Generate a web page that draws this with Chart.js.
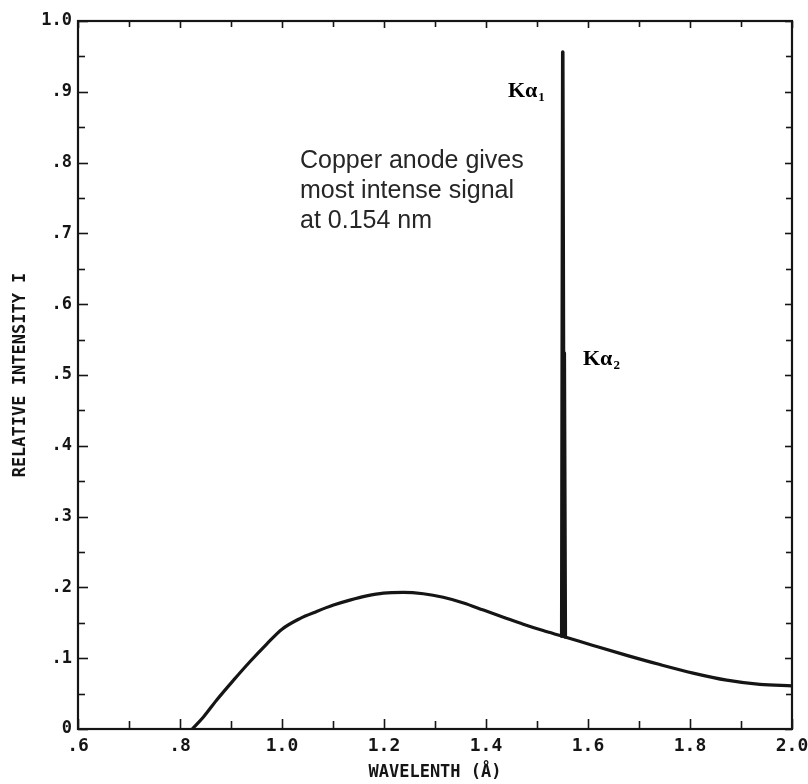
<!DOCTYPE html>
<html>
<head>
<meta charset="utf-8">
<script src="https://cdn.jsdelivr.net/npm/chart.js@4.4.1/dist/chart.umd.min.js"></script>
<style>
  html, body { margin: 0; padding: 0; background: #ffffff; }
  #wrap { width: 808px; height: 784px; }
</style>
</head>
<body>
<div id="wrap"><canvas id="c" width="808" height="784"></canvas></div>
<script>
// ---- data ----
// continuous (bremsstrahlung) spectrum
const contWavelength = [0.824, 0.846, 0.872, 0.905, 0.937, 0.970, 1.000, 1.035, 1.068, 1.101,
  1.133, 1.166, 1.199, 1.238, 1.277, 1.316, 1.356, 1.395, 1.434, 1.473, 1.512, 1.550,
  1.610, 1.676, 1.741, 1.806, 1.872, 1.937, 2.0];
const contIntensity = [0, 0.017, 0.041, 0.069, 0.095, 0.120, 0.141, 0.156, 0.166, 0.175,
  0.182, 0.188, 0.192, 0.193, 0.191, 0.186, 0.178, 0.168, 0.158, 0.148, 0.139, 0.131,
  0.118, 0.104, 0.091, 0.079, 0.069, 0.063, 0.061];
// characteristic Kα1 / Kα2 lines
const lineWavelength = [1.5485, 1.5505, 1.5520, 1.5535, 1.5555];
const lineIntensity  = [0.131, 0.956, 0.500, 0.531, 0.130];

const xTickLabels = ['.6', '.8', '1.0', '1.2', '1.4', '1.6', '1.8', '2.0'];
const yTickLabels = ['0', '.1', '.2', '.3', '.4', '.5', '.6', '.7', '.8', '.9', '1.0'];

const xTitle = 'WAVELENTH (Å)';
const yTitle = 'RELATIVE INTENSITY I';
const noteLines = ['Copper anode gives', 'most intense signal', 'at 0.154 nm'];
const peakLabels = [
  { main: 'Kα', sub: '1', x: 1.4431, y: 0.893 },
  { main: 'Kα', sub: '2', x: 1.5902, y: 0.514 }
];
const noteAnchor = { x: 1.0353, y: 0.7924 };

const toPts = (xs, ys) => xs.map((w, i) => ({ x: w, y: ys[i] }));

const INK = '#151515';

const framePlugin = {
  id: 'frameTicks',
  afterDraw(chart) {
    const { ctx, chartArea: a, scales: { x, y } } = chart;
    ctx.save();
    ctx.strokeStyle = INK;
    ctx.lineCap = 'butt';
    const seg = (x1, y1, x2, y2) => { ctx.beginPath(); ctx.moveTo(x1, y1); ctx.lineTo(x2, y2); ctx.stroke(); };
    ctx.lineWidth = 1.6;
    for (let k = 0; k <= 14; k++) {
      const v = 0.6 + k * 0.1;
      const px = Math.round(x.getPixelForValue(v)) + 0.5;
      const major = k % 2 === 0;
      seg(px, a.bottom, px, a.bottom - (major ? 10 : 8));
      seg(px, a.top, px, a.top + (major ? 7 : 6));
    }
    for (let k = 0; k <= 20; k++) {
      const v = k * 0.05;
      const py = Math.round(y.getPixelForValue(v)) + 0.5;
      const major = k % 2 === 0;
      seg(a.left, py, a.left + (major ? 10 : 7), py);
      seg(a.right, py, a.right - (major ? 7 : 6), py);
    }
    ctx.lineWidth = 2.2;
    ctx.strokeRect(a.left, a.top, a.right - a.left, a.bottom - a.top);

    ctx.fillStyle = '#000';
    ctx.textBaseline = 'alphabetic';
    ctx.textAlign = 'left';
    peakLabels.forEach(p => {
      const px = x.getPixelForValue(p.x);
      const py = y.getPixelForValue(p.y);
      ctx.font = 'bold 22px "Liberation Serif", "DejaVu Serif", serif';
      ctx.fillText(p.main, px, py);
      const w = ctx.measureText(p.main).width;
      ctx.font = 'bold 13px "Liberation Serif", "DejaVu Serif", serif';
      ctx.fillText(p.sub, px + w + 1, py + 4);
    });

    ctx.fillStyle = '#262626';
    ctx.font = '25px "Liberation Sans", Arial, sans-serif';
    const nx = x.getPixelForValue(noteAnchor.x);
    const ny = y.getPixelForValue(noteAnchor.y);
    noteLines.forEach((t, i) => ctx.fillText(t, nx, ny + i * 30));
    ctx.restore();
  }
};

new Chart(document.getElementById('c'), {
  type: 'line',
  data: {
    datasets: [{
      data: toPts(contWavelength, contIntensity),
      borderColor: INK,
      borderWidth: 3.2,
      pointRadius: 0,
      fill: false,
      cubicInterpolationMode: 'monotone',
      borderJoinStyle: 'round',
      borderCapStyle: 'round'
    }, {
      data: toPts(lineWavelength, lineIntensity),
      borderColor: INK,
      borderWidth: 3.6,
      pointRadius: 0,
      fill: false,
      tension: 0,
      borderJoinStyle: 'round',
      borderCapStyle: 'round'
    }]
  },
  options: {
    responsive: false,
    animation: false,
    devicePixelRatio: 1,
    layout: { padding: { left: 0, right: 16, top: 21, bottom: 0 } },
    plugins: { legend: { display: false }, tooltip: { enabled: false } },
    scales: {
      x: {
        type: 'linear',
        min: 0.6, max: 2.0,
        afterFit(s) { s.height = 55; s.paddingLeft = 0; s.paddingRight = 0; },
        grid: { display: false, drawTicks: false },
        border: { display: false },
        ticks: {
          stepSize: 0.2,
          autoSkip: false,
          maxRotation: 0,
          padding: 7,
          color: INK,
          font: { family: '"DejaVu Sans Mono", monospace', size: 18, weight: 'bold' },
          callback: (v, i) => xTickLabels[i]
        },
        title: {
          display: true,
          text: xTitle,
          color: INK,
          padding: { top: 0, bottom: 1 },
          font: { family: '"DejaVu Sans Mono", monospace', size: 17, weight: 'bold' }
        }
      },
      y: {
        type: 'linear',
        min: 0, max: 1.0,
        afterFit(s) { s.width = 78; s.paddingTop = 0; s.paddingBottom = 0; },
        grid: { display: false, drawTicks: false },
        border: { display: false },
        ticks: {
          stepSize: 0.1,
          autoSkip: false,
          padding: 6,
          color: INK,
          font: { family: '"DejaVu Sans Mono", monospace', size: 17, weight: 'bold' },
          callback: (v, i) => yTickLabels[i]
        },
        title: {
          display: true,
          text: yTitle,
          color: INK,
          padding: { top: 10, bottom: 0 },
          font: { family: '"DejaVu Sans Mono", monospace', size: 17, weight: 'bold' }
        }
      }
    }
  },
  plugins: [framePlugin]
});
</script>
</body>
</html>
